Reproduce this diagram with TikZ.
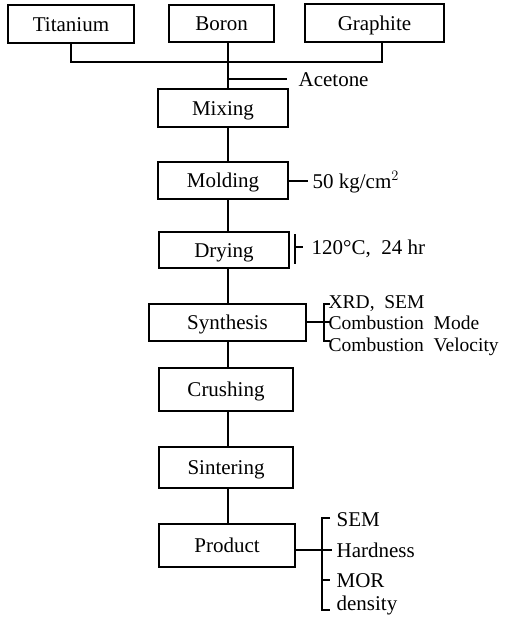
\documentclass[tikz,border=0pt]{standalone}
\usepackage{fontspec}
\setmainfont{Liberation Serif}
\begin{document}
\begin{tikzpicture}[x=1pt,y=-1pt,
  line width=1.2pt,
  every node/.style={font=\fontsize{21}{18}\selectfont},
  stage/.style={draw, rectangle, inner sep=0pt, text height=14pt, text depth=0pt},
  note/.style={anchor=base west, inner sep=0pt},
  notes/.style={anchor=north west, inner sep=0pt, align=left,
    font=\fontsize{19.5}{21.6}\selectfont}]
\useasboundingbox (0,0) rectangle (522,619);

% raw materials
\node[stage, minimum width=126, minimum height=38] (ti) at (71,24) {Titanium};
\node[stage, minimum width=105, minimum height=37] (bo) at (221.5,23.5) {Boron};
\node[stage, minimum width=139, minimum height=38] (gr) at (374.5,23) {Graphite};

% process stages
\node[stage, minimum width=130, minimum height=38] (mix)  at (223,108)   {Mixing};
\node[stage, minimum width=130, minimum height=37] (mold) at (223,180.5) {Molding};
\node[stage, minimum width=130, minimum height=36] (dry)  at (224,250)   {Drying};
\node[stage, minimum width=157, minimum height=37] (syn)  at (227.5,322.5) {Synthesis};
\node[stage, minimum width=134, minimum height=43] (cru)  at (226,389.5) {Crushing};
\node[stage, minimum width=134, minimum height=41] (sin)  at (226,467.5) {Sintering};
\node[stage, minimum width=136, minimum height=43] (prod) at (227,545.5) {Product};

% spine and bus
\coordinate (spine) at (228,0);
\coordinate (busL)  at (71,62);
\coordinate (busR)  at (382,62);
\coordinate (acet)  at (228,79);

\draw (ti.south) -- (busL) -- (busR) -- (busR |- gr.south);
\draw (bo.south -| spine) -- (mix.north -| spine);
\draw (mix.south -| spine) -- (mold.north -| spine);
\draw (mold.south -| spine) -- (dry.north -| spine);
\draw (dry.south -| spine) -- (syn.north -| spine);
\draw (syn.south -| spine) -- (cru.north -| spine);
\draw (cru.south -| spine) -- (sin.north -| spine);
\draw (sin.south -| spine) -- (prod.north -| spine);

% acetone
\node[note] (aclab) at (298,86) {Acetone};
\draw (acet) -- (287,79);

% molding pressure
\node[note] (mollab) at (312,188) {50 kg/cm$^{2}$};
\draw (mold.east |- 0,181) -- (308,181);

% drying conditions
\node[note] (drylab) at (311,254) {120°C, \ 24 hr};
\draw (295,234) -- (295,264);
\draw (295,247) -- (303,247);

% synthesis analysis
\node[notes] (slab) at (328,294.6) {XRD, \ SEM\\Combustion \ Mode\\Combustion \ Velocity};
\draw (syn.east |- 0,322) -- (330,322);
\draw (330,304) -- (324,304) -- (324,341) -- (330,341);

% product characterisation
\node[note] (p1) at (336,526) {SEM};
\node[note] (p2) at (336,557) {Hardness};
\node[note] (p3) at (336,587) {MOR};
\node[note] (p4) at (336,610) {density};
\draw (prod.east |- 0,550) -- (332,550);
\draw (330,518) -- (322,518) -- (322,610) -- (330,610);
\draw (322,580) -- (330,580);
\end{tikzpicture}
\end{document}
